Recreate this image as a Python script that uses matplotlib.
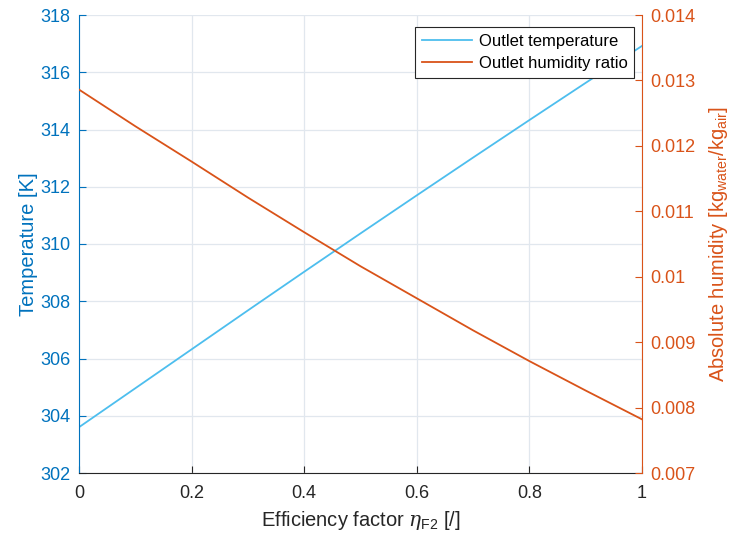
import numpy as np
import matplotlib
matplotlib.use("Agg")
import matplotlib.pyplot as plt
from matplotlib.ticker import FuncFormatter

plt.rcParams['font.family'] = ['Liberation Sans', 'DejaVu Sans']
plt.rcParams['mathtext.fontset'] = 'custom'
plt.rcParams['mathtext.rm'] = 'Liberation Sans'
plt.rcParams['mathtext.it'] = 'DejaVu Serif:italic'

eta = [0.0, 0.1, 0.2, 0.3, 0.4, 0.5, 0.6, 0.7, 0.8, 0.9, 1.0]
t_out = [303.60, 304.96, 306.32, 307.68, 309.03, 310.37, 311.70, 313.02, 314.33, 315.63, 316.92]
w_out = [0.01286, 0.01230, 0.01176, 0.01121, 0.01068, 0.01016, 0.00967, 0.00918, 0.00871, 0.00826, 0.00782]

c_left = "#0072BD"
c_right = "#D95319"
c_t = "#4DBEEE"

fig = plt.figure(figsize=(7.37, 5.39), dpi=100)
ax1 = fig.add_axes([79/737, 66/539, 563/737, 458/539])
ax2 = ax1.twinx()

l1, = ax1.plot(eta, t_out, color=c_t, lw=1.3, label="Outlet temperature")
l2, = ax2.plot(eta, w_out, color=c_right, lw=1.3, label="Outlet humidity ratio")

ax1.set_xlim(0, 1)
ax1.set_ylim(302, 318)
ax2.set_ylim(0.007, 0.014)
ax1.set_xticks(np.arange(0, 1.01, 0.2))
ax1.set_yticks(np.arange(302, 319, 2))
ax2.set_yticks(np.arange(0.007, 0.01401, 0.001))
fmt = FuncFormatter(lambda v, p: "%g" % round(v, 4))
ax1.xaxis.set_major_formatter(fmt)
ax2.yaxis.set_major_formatter(fmt)

ax1.grid(True, color="#e1e7ee", lw=0.9)
ax1.set_axisbelow(True)

for ax in (ax1, ax2):
    ax.spines['top'].set_visible(False)
ax2.spines['left'].set_visible(False)
ax2.spines['bottom'].set_visible(False)
ax1.spines['right'].set_visible(False)
ax1.spines['left'].set_color(c_left)
ax2.spines['right'].set_color(c_right)
ax1.spines['bottom'].set_color("#262626")

ax1.tick_params(axis='x', direction='in', length=5, colors="#262626", labelsize=13, pad=9)
ax1.tick_params(axis='y', direction='in', length=5, colors=c_left, labelsize=13, pad=6)
ax2.tick_params(axis='y', direction='in', length=5, colors=c_right, labelsize=13, pad=6)

ax1.set_xlabel(r"Efficiency factor $\eta_{\mathrm{F2}}$ [/]", fontsize=14.5, color="#262626", labelpad=5)
ax1.set_ylabel("Temperature [K]", fontsize=14.5, color=c_left, labelpad=2)
ax2.set_ylabel(r"Absolute humidity [kg$_{\mathrm{water}}$/kg$_{\mathrm{air}}$]", fontsize=14.5,
               color=c_right, labelpad=8)

leg = ax2.legend(handles=[l1, l2], loc="upper right", bbox_to_anchor=(0.986, 0.974),
                 fontsize=12, frameon=True, fancybox=False, framealpha=1,
                 edgecolor="#262626", handlelength=3.0, borderpad=0.4, labelspacing=0.45,
                 handletextpad=0.4, borderaxespad=0.0)
leg.get_frame().set_linewidth(0.8)

fig.savefig("out.png", dpi=100)
